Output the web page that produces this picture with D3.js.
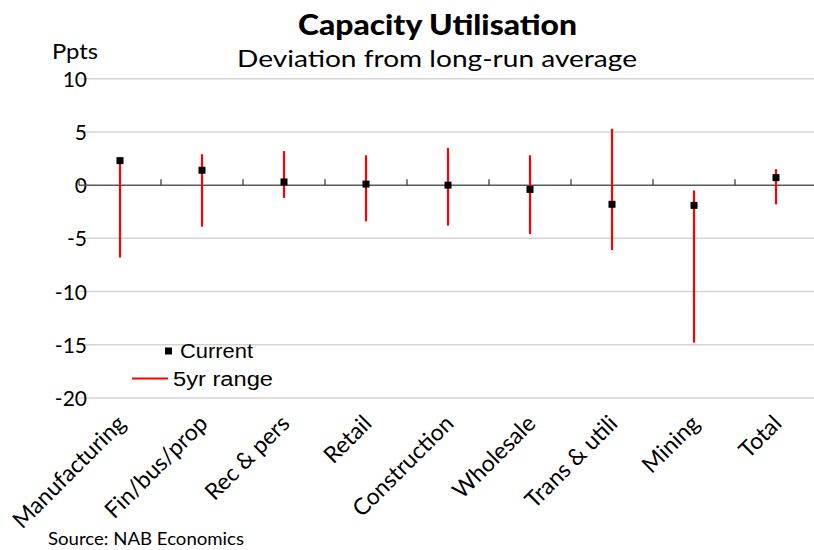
<!DOCTYPE html>
<html>
<head>
<meta charset="utf-8">
<script src="https://cdn.jsdelivr.net/npm/d3@7"></script>
<style>
  html, body { margin: 0; padding: 0; background: #fff; }
  svg { display: block; }
</style>
</head>
<body>
<svg id="chart" width="814" height="550"></svg>
<script>
// Sectors and their capacity utilisation deviation (ppts from long-run average)
const categories = ["Manufacturing", "Fin/bus/prop", "Rec & pers", "Retail", "Construction",
                    "Wholesale", "Trans & utili", "Mining", "Total"];
const currentValues = [2.3, 1.4, 0.3, 0.1, 0.0, -0.4, -1.8, -1.9, 0.7];
const rangeHigh = [2.6, 2.9, 3.2, 2.8, 3.5, 2.8, 5.3, -0.5, 1.5];
const rangeLow = [-6.8, -3.9, -1.2, -3.4, -3.8, -4.6, -6.1, -14.8, -1.8];
const yTicks = [10, 5, 0, -5, -10, -15, -20];

const svg = d3.select("#chart");
const calibriLike = "Lato, 'Open Sans', sans-serif";
const arialLike = "'Liberation Sans', Arial, sans-serif";

const x = d3.scaleBand().domain(categories).range([79, 817]).padding(0);
const y = d3.scaleLinear().domain([-20, 10]).range([398, 78.7]);

// Horizontal gridlines
svg.append("g").selectAll("line")
  .data(yTicks.filter(d => d !== 0))
  .join("line")
  .attr("x1", 79).attr("x2", 814)
  .attr("y1", d => y(d)).attr("y2", d => y(d))
  .attr("stroke", "#d4d4d4").attr("stroke-width", 1.5);

// Y axis labels (no axis line), plain hyphen for negatives
const yAxis = d3.axisLeft(y).tickValues(yTicks).tickSize(0).tickPadding(0)
  .tickFormat(d => String(d));
const yg = svg.append("g").attr("transform", "translate(87,0)").call(yAxis);
yg.select(".domain").remove();
yg.selectAll("text")
  .attr("font-family", calibriLike).attr("font-size", 21).attr("fill", "#000")
  .attr("dy", "0.36em");

// Category axis along zero, with ticks at category boundaries pointing up
const zeroY = y(0);
svg.append("line")
  .attr("x1", 79).attr("x2", 814).attr("y1", zeroY).attr("y2", zeroY)
  .attr("stroke", "#595959").attr("stroke-width", 1.5);
const boundaries = categories.map(c => x(c));
svg.append("g").selectAll("line")
  .data(boundaries)
  .join("line")
  .attr("x1", d => d).attr("x2", d => d)
  .attr("y1", zeroY).attr("y2", zeroY - 6)
  .attr("stroke", "#404040").attr("stroke-width", 1.3);

// Category labels, rotated
svg.append("g").selectAll("text")
  .data(categories)
  .join("text")
  .attr("transform", d => `translate(${x(d) + x.bandwidth() / 2 + 7},${425}) rotate(-45)`)
  .attr("text-anchor", "end")
  .attr("font-family", calibriLike).attr("font-size", 23).attr("fill", "#000")
  .text(d => d);

// 5-year range lines
const cx = i => x(categories[i]) + x.bandwidth() / 2;
svg.append("g").selectAll("line")
  .data(categories)
  .join("line")
  .attr("x1", (d, i) => cx(i)).attr("x2", (d, i) => cx(i))
  .attr("y1", (d, i) => y(rangeHigh[i])).attr("y2", (d, i) => y(rangeLow[i]))
  .attr("stroke", "#ff0000").attr("stroke-width", 2.2);

// Current markers
const sq = 7;
svg.append("g").selectAll("rect")
  .data(categories)
  .join("rect")
  .attr("x", (d, i) => cx(i) - sq / 2)
  .attr("y", (d, i) => y(currentValues[i]) - sq / 2)
  .attr("width", sq).attr("height", sq)
  .attr("fill", "#000");

// Legend
const legend = svg.append("g");
legend.append("rect").attr("x", 165).attr("y", 347.5).attr("width", 7).attr("height", 7).attr("fill", "#000");
legend.append("text").attr("x", 180).attr("y", 358)
  .attr("font-family", arialLike).attr("font-size", 20)
  .attr("textLength", 73).attr("lengthAdjust", "spacingAndGlyphs")
  .text("Current");
legend.append("line").attr("x1", 132).attr("x2", 168).attr("y1", 378.5).attr("y2", 378.5)
  .attr("stroke", "#ff0000").attr("stroke-width", 2);
legend.append("text").attr("x", 173).attr("y", 386)
  .attr("font-family", arialLike).attr("font-size", 20)
  .attr("textLength", 100).attr("lengthAdjust", "spacingAndGlyphs")
  .text("5yr range");

// Titles and annotations
svg.append("text").attr("x", 437.5).attr("y", 35).attr("text-anchor", "middle")
  .attr("font-family", calibriLike).attr("font-weight", 900).attr("font-size", 28)
  .attr("textLength", 279).attr("lengthAdjust", "spacingAndGlyphs")
  .text("Capacity Utilisation");
svg.append("text").attr("x", 437).attr("y", 67).attr("text-anchor", "middle")
  .attr("font-family", calibriLike).attr("font-size", 23)
  .attr("textLength", 400).attr("lengthAdjust", "spacingAndGlyphs")
  .text("Deviation from long-run average");
svg.append("text").attr("x", 52).attr("y", 59)
  .attr("font-family", calibriLike).attr("font-size", 21)
  .attr("textLength", 46).attr("lengthAdjust", "spacingAndGlyphs")
  .text("Ppts");
svg.append("text").attr("x", 48).attr("y", 545)
  .attr("font-family", calibriLike).attr("font-size", 17)
  .attr("textLength", 196).attr("lengthAdjust", "spacingAndGlyphs")
  .text("Source: NAB Economics");
</script>
</body>
</html>
